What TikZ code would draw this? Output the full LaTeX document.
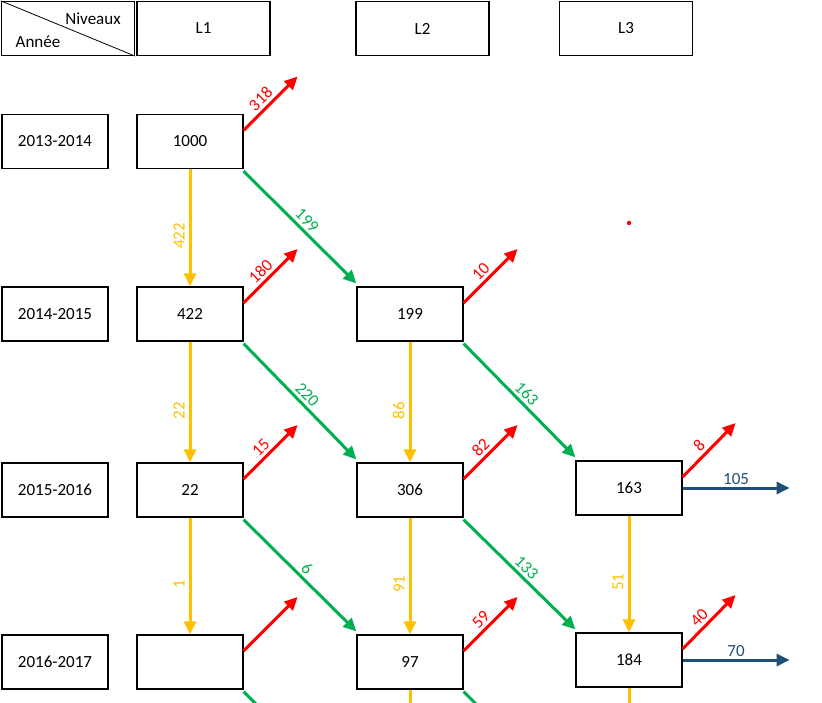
\documentclass[tikz,border=0pt]{standalone}
\usepackage{fontspec}
\setmainfont{Carlito}
\usetikzlibrary{arrows.meta}
\definecolor{cred}{HTML}{FF0000}
\definecolor{cgreen}{HTML}{00B050}
\definecolor{cyellow}{HTML}{FFC000}
\definecolor{cblue}{HTML}{1F4E79}
\tikzset{
  cell/.style={draw, line width=1.2pt, minimum width=106pt, minimum height=54pt, inner sep=0pt, font=\fontsize{17}{20}\selectfont},
  hcell/.style={cell, minimum width=133pt},
  flow/.style={line width=3pt, -{Triangle[length=13pt,width=12pt]}},
  redarr/.style={flow, cred},
  greenarr/.style={flow, cgreen},
  yelarr/.style={flow, cyellow},
  bluearr/.style={flow, cblue},
  lab/.style={font=\fontsize{17}{20}\selectfont, inner sep=1pt},
}
\begin{document}
\begin{tikzpicture}[x=1pt,y=-1pt]
\useasboundingbox (0,0) rectangle (822,703);
\clip (0,0) rectangle (822,703);
% header
\node[hcell] (corner) at (68,28.5) {};
\draw[line width=0.8pt] (corner.north west) -- (corner.south east);
\node[lab] (niv) at (93,19) {Niveaux};
\node[lab] (an) at (38,42) {Année};
\node[hcell] (h1) at (203.5,28.5) {L1};
\node[hcell] (h2) at (422.5,28.5) {L2};
\node[hcell] (h3) at (626,28.5) {L3};
% years
\node[cell] (y1) at (55,141.5) {2013-2014};
\node[cell] (y2) at (55,314) {2014-2015};
\node[cell] (y3) at (55,490) {2015-2016};
\node[cell] (y4) at (55,662) {2016-2017};
% data
\node[cell] (a1) at (190,141.5) {1000};
\node[cell] (a2) at (190,314) {422};
\node[cell] (a3) at (190,490) {22};
\node[cell] (a4) at (190,662) {};
\node[cell] (b2) at (410,314) {199};
\node[cell] (b3) at (410,490) {306};
\node[cell] (b4) at (410,662) {97};
\node[cell] (c3) at (629,488) {163};
\node[cell] (c4) at (629,660) {184};
% yellow
\draw[yelarr] (a1.south) -- node[lab, cyellow, pos=0.57, rotate=90, above=3pt] {422} (a2.north);
\draw[yelarr] (a2.south) -- node[lab, cyellow, pos=0.57, rotate=90, above=3pt] {22} (a3.north);
\draw[yelarr] (a3.south) -- node[lab, cyellow, pos=0.57, rotate=90, above=3pt] {1} (a4.north);
\draw[yelarr] (b2.south) -- node[lab, cyellow, pos=0.57, rotate=90, above=3pt] {86} (b3.north);
\draw[yelarr] (b3.south) -- node[lab, cyellow, pos=0.57, rotate=90, above=3pt] {91} (b4.north);
\draw[yelarr] (c3.south) -- node[lab, cyellow, pos=0.57, rotate=90, above=3pt] {51} (c4.north);
% green
\draw[greenarr] ([yshift=-2pt]a1.south east) -- node[lab, cgreen, pos=0.5, sloped, above=2pt] {199} ([yshift=3pt]b2.north west);
\draw[greenarr] ([yshift=-2pt]a2.south east) -- node[lab, cgreen, pos=0.5, sloped, above=2pt] {220} ([yshift=3pt]b3.north west);
\draw[greenarr] ([yshift=-2pt]a3.south east) -- node[lab, cgreen, pos=0.5, sloped, above=2pt] {6} ([yshift=3pt]b4.north west);
\draw[greenarr] ([yshift=-2pt]b2.south east) -- node[lab, cgreen, pos=0.5, sloped, above=2pt] {163} ([yshift=3pt]c3.north west);
\draw[greenarr] ([yshift=-2pt]b3.south east) -- node[lab, cgreen, pos=0.5, sloped, above=2pt] {133} ([yshift=3pt]c4.north west);
% red
\draw[redarr] ([yshift=11pt]a1.east) -- node[lab, cred, pos=0.45, sloped, above=2pt] {318} ++(54,-54);
\draw[redarr] ([yshift=11pt]a2.east) -- node[lab, cred, pos=0.45, sloped, above=2pt] {180} ++(54,-54);
\draw[redarr] ([yshift=11pt]a3.east) -- node[lab, cred, pos=0.45, sloped, above=2pt] {15} ++(54,-54);
\draw[redarr] ([yshift=11pt]a4.east) -- ++(54,-54);
\draw[redarr] ([yshift=11pt]b2.east) -- node[lab, cred, pos=0.45, sloped, above=2pt] {10} ++(54,-54);
\draw[redarr] ([yshift=11pt]b3.east) -- node[lab, cred, pos=0.45, sloped, above=2pt] {82} ++(54,-54);
\draw[redarr] ([yshift=11pt]b4.east) -- node[lab, cred, pos=0.45, sloped, above=2pt] {59} ++(54,-54);
\draw[redarr] ([yshift=11pt]c3.east) -- node[lab, cred, pos=0.45, sloped, above=2pt] {8} ++(53,-54);
\draw[redarr] ([yshift=11pt]c4.east) -- node[lab, cred, pos=0.45, sloped, above=2pt] {40} ++(53,-54);
% blue
\draw[bluearr] (c3.east) -- node[lab, cblue, pos=0.5, above=1pt] {105} ++(107,0);
\draw[bluearr] (c4.east) -- node[lab, cblue, pos=0.5, above=1pt] {70} ++(107,0);
% bottom stubs
\draw[line width=3pt, cgreen] ([yshift=-2pt]a4.south east) -- ++(20,20);
\draw[line width=3pt, cyellow] (b4.south) -- ++(0,20);
\draw[line width=3pt, cgreen] ([yshift=-2pt]b4.south east) -- ++(20,20);
\draw[line width=3pt, cyellow] (c4.south) -- ++(0,20);
% dot
\fill[cred] (629,223) circle (2.2);
\end{tikzpicture}
\end{document}
